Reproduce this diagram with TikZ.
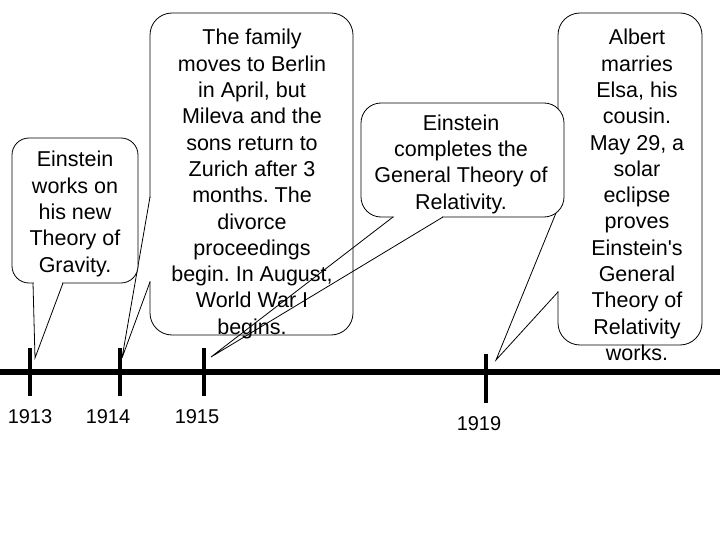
\documentclass[tikz,border=0pt]{standalone}
\usepackage{fontspec}
\setmainfont{Liberation Sans}
\newfontfamily\bubblefont{Liberation Sans}
\frenchspacing
\usepackage{tikz}
\tikzset{>=latex}
\tikzset{
  bubble/.style={draw, fill=white, line width=0.8pt, inner sep=0pt},
  wedge/.style={line width=0.8pt, line join=miter},
  gap/.style={white, line width=2.4pt, shorten <=0.6pt, shorten >=0.6pt},
  bubbletext/.style={align=center, inner sep=0pt, font=\bubblefont\fontsize{21.5}{26.3}\selectfont},
  yeartext/.style={inner sep=0pt, font=\bubblefont\fontsize{20}{24}\selectfont},
  tick/.style={line width=4.5pt}
}
\definecolor{paper}{HTML}{FFFFFF}

\begin{document}
\begin{tikzpicture}[x=1pt, y=-1pt]
                \useasboundingbox[fill=paper] (0, 0) rectangle (720, 540);
                \coordinate (t13) at (30, 348);
                \coordinate (t14) at (120, 348);
                \coordinate (t15) at (204, 348);
                \coordinate (t19) at (486, 354);
                \coordinate (p13) at (35, 358);
                \coordinate (p14) at (122, 358);
                \coordinate (p15) at (211, 357);
                \coordinate (p19) at (496, 360);
                \node[bubble, rounded corners=22pt, minimum width=144pt, minimum height=332pt] (box19) at (630, 179) {};
                \coordinate (a19) at (558, 208);
                \coordinate (b19) at (558, 292);
                \draw[gap] (a19) -- (b19);
                \draw[wedge] (a19) -- (p19) -- (b19);
                \node[bubble, rounded corners=22pt, minimum width=203pt, minimum height=322pt] (box14) at (251.5, 174) {};
                \coordinate (a14) at (150, 197);
                \coordinate (b14) at (150, 282);
                \draw[gap] (a14) -- (b14);
                \draw[wedge] (a14) -- (p14) -- (b14);
                \node[bubble, rounded corners=17pt, minimum width=126pt, minimum height=145pt] (box13) at (75, 210.5) {};
                \coordinate (a13) at (33, 283);
                \coordinate (b13) at (63, 283);
                \draw[gap] (a13) -- (b13);
                \draw[wedge] (a13) -- (p13) -- (b13);
                \node[bubble, rounded corners=20pt, minimum width=203pt, minimum height=114pt] (box15) at (462.5, 160) {};
                \coordinate (a15) at (393, 217);
                \coordinate (b15) at (443, 217);
                \draw[gap] (a15) -- (b15);
                \draw[wedge] (a15) -- (p15) -- (b15);
                \node[bubbletext] (txt13) at (75, 214) {Einstein\\works on\\his new\\Theory of\\Gravity.};
                \node[bubbletext] (txt14) at (252, 184) {The family\\moves to Berlin\\in April, but\\Mileva and the\\sons return to\\Zurich after 3\\months. The\\divorce\\proceedings\\begin. In August,\\World War I\\begins.};
                \node[bubbletext] (txt15) at (461, 164) {Einstein\\completes the\\General Theory of\\Relativity.};
                \node[bubbletext] (txt19) at (637, 195) {Albert\\marries\\Elsa, his\\cousin.\\May 29, a\\solar\\eclipse\\proves\\Einstein's\\General\\Theory of\\Relativity\\works.};
                \coordinate (lineL) at (0, 372);
                \coordinate (lineR) at (720, 372);
                \draw[line width=6pt] (lineL) -- (lineR);
                \draw[tick] (t13) -- ++(0, 48);
                \draw[tick] (t14) -- ++(0, 48);
                \draw[tick] (t15) -- ++(0, 48);
                \draw[tick] (t19) -- ++(0, 49);
                \node[yeartext] (y13) at (30, 417) {1913};
                \node[yeartext] (y14) at (108, 417) {1914};
                \node[yeartext] (y15) at (197, 417) {1915};
                \node[yeartext] (y19) at (479, 424) {1919};
            \end{tikzpicture}
\end{document}
